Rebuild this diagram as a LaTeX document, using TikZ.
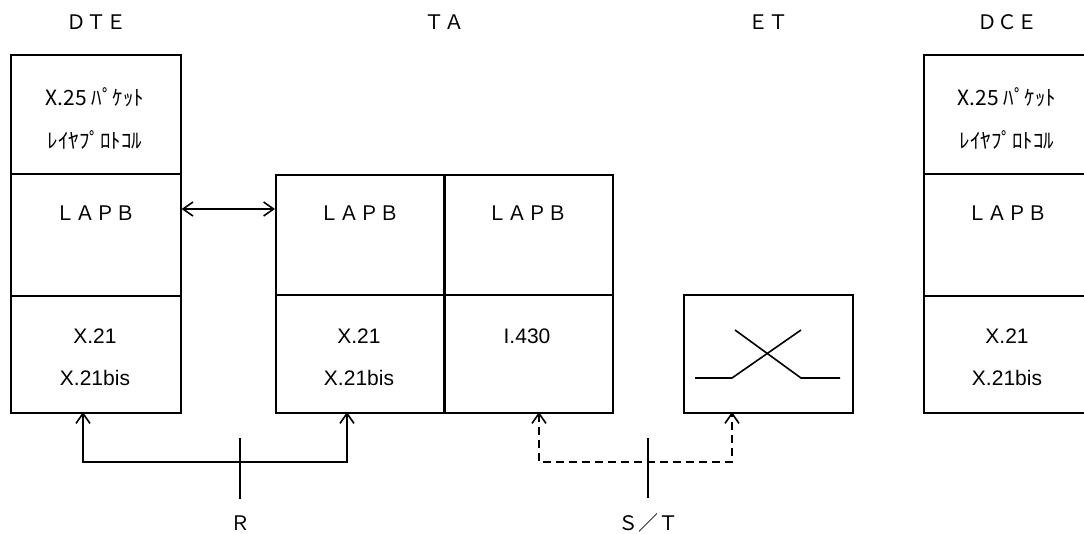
\documentclass[tikz,border=0pt]{standalone}
\usepackage{fontspec}
\setmainfont{Liberation Sans}
\newfontfamily\jp{Noto Sans CJK JP}
\usetikzlibrary{arrows.meta}
\begin{document}
\begin{tikzpicture}[x=1pt,y=-1pt,line width=1.6pt,
  cell/.style={draw,line width=1.6pt,anchor=north west,inner sep=0,minimum width=#1},
  txt/.style={font=\fontsize{21}{24}\selectfont,inner sep=0},
  wide/.style={font=\jp\fontsize{20}{24}\selectfont,inner sep=0},
  kana/.style={font=\jp\fontsize{21}{24}\selectfont,inner sep=0},
  arr/.style={{Straight Barb[length=10pt,width=14pt]}-{Straight Barb[length=10pt,width=14pt]}}]
\useasboundingbox (0,0) rectangle (1084,533);
% titles
\node[wide] (tdte) at (96,22) {ＤＴＥ};
\node[wide] (tta) at (444,22) {ＴＡ};
\node[wide] (tet) at (768,22) {ＥＴ};
\node[wide] (tdce) at (1007,22) {ＤＣＥ};
% DTE
\node[cell=170pt,minimum height=119pt] (dte1) at (10,54) {};
\node[cell=170pt,minimum height=122pt] (dte2) at (10,173) {};
\node[cell=170pt,minimum height=117pt] (dte3) at (10,295) {};
\node[kana] at (95,97) {X.25 ﾊﾟｹｯﾄ};
\node[kana] at (95,140) {ﾚｲﾔﾌﾟﾛﾄｺﾙ};
\node[wide] at (95,213) {ＬＡＰＢ};
\node[txt] at (95,336) {X.21};
\node[txt] at (95,378) {X.21bis};
% DCE
\node[cell=170pt,minimum height=119pt] (dce1) at (923,54) {};
\node[cell=170pt,minimum height=122pt] (dce2) at (923,173) {};
\node[cell=170pt,minimum height=117pt] (dce3) at (923,295) {};
\node[kana] at (1007,97) {X.25 ﾊﾟｹｯﾄ};
\node[kana] at (1007,140) {ﾚｲﾔﾌﾟﾛﾄｺﾙ};
\node[wide] at (1007,213) {ＬＡＰＢ};
\node[txt] at (1007,336) {X.21};
\node[txt] at (1007,378) {X.21bis};
% TA
\node[cell=168pt,minimum height=120pt] (ta1) at (275,174) {};
\node[cell=168pt,minimum height=118pt] (ta3) at (275,294) {};
\node[cell=169pt,minimum height=120pt] (ta2) at (443,174) {};
\node[cell=169pt,minimum height=118pt] (ta4) at (443,294) {};
\draw[line width=2.8pt] (ta1.north east) -- (ta3.south east);
\node[wide] at (359,213) {ＬＡＰＢ};
\node[wide] at (527,213) {ＬＡＰＢ};
\node[txt] at (359,336) {X.21};
\node[txt] at (359,378) {X.21bis};
\node[txt] at (527,336) {I.430};
% ET
\node[cell=169pt,minimum height=118pt] (et) at (683,294) {};
\draw (695,378) -- (732,378) -- (801,330);
\draw (735,330) -- (801,378) -- (840,378);
% LAPB arrow
\draw[arr] (dte2.east |- 0,209) -- (ta1.west |- 0,209);
% R connection
\coordinate (ra) at (83,412);
\coordinate (rb) at (347,412);
\draw[arr] (ra) -- (83,462) -- (347,462) -- (rb);
\draw (240,438) -- (240,499);
\node[wide] (rl) at (240,523) {Ｒ};
% S/T connection
\coordinate (sa) at (539,412);
\coordinate (sb) at (732,412);
\draw[arr,dash pattern=on 8pt off 5pt] (sa) -- (539,462) -- (732,462) -- (sb);
\draw (648,438) -- (648,498);
\node[wide] (stl) at (648,523) {Ｓ／Ｔ};
\end{tikzpicture}
\end{document}
